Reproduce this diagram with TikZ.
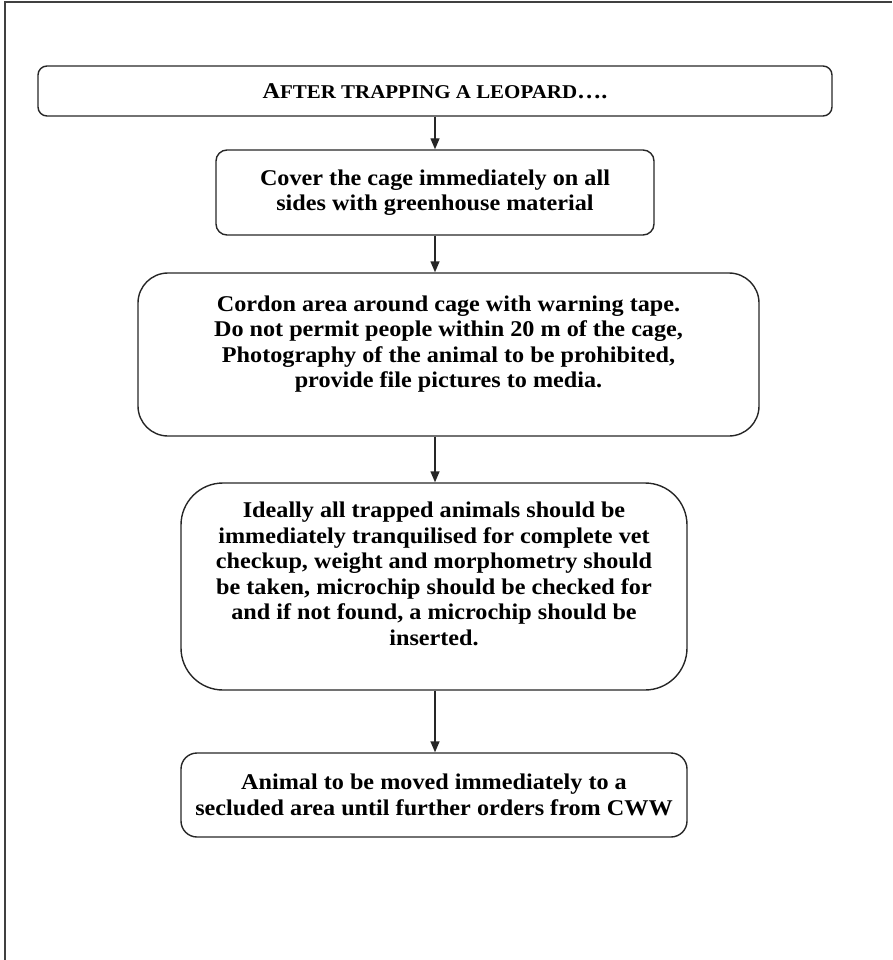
\documentclass[tikz,border=0pt]{standalone}
\usepackage{fontspec}
\setmainfont[FakeStretch=1.075]{Liberation Serif}
\usetikzlibrary{arrows.meta}
\newcommand{\fakesc}[2]{#1{\fontsize{19.5}{25.5}\selectfont #2}}
\begin{document}
\begin{tikzpicture}[x=1pt,y=-1pt,
  stepbox/.style={draw=black!85, line width=1.4pt, align=center, inner sep=0pt,
    font=\fontsize{22.5}{25.5}\selectfont\bfseries},
  arr/.style={draw=black!85, line width=1.4pt, -{Triangle[length=11pt,width=9pt]}},
  frameline/.style={draw=black!75, line width=2pt}]
\useasboundingbox (0,0) rectangle (892,960);
\draw[frameline] (5,960) -- (5,2) -- (892,2);

\node[stepbox, rounded corners=9pt, minimum width=794pt, minimum height=50pt] (b1) at (435,91)
  {\fakesc{A}{FTER TRAPPING A LEOPARD}\ldots.};
\node[stepbox, rounded corners=11pt, minimum width=438pt, minimum height=85pt] (b2) at (435,192.5)
  {Cover the cage immediately on all\\ sides with greenhouse material};
\node[stepbox, rounded corners=30pt, minimum width=621pt, minimum height=163pt] (b3) at (448.5,354.5)
  {Cordon area around cage with warning tape.\\ Do not permit people within 20 m of the cage,\\ Photography of the animal to be prohibited,\\ provide file pictures to media.\\ \mbox{}};
\node[stepbox, rounded corners=42pt, minimum width=506pt, minimum height=207pt] (b4) at (434,586.5)
  {Ideally all trapped animals should be\\ immediately tranquilised for complete vet\\ checkup, weight and morphometry should\\ be taken, microchip should be checked for\\ and if not found, a microchip should be\\ inserted.\\ \mbox{}};
\node[stepbox, rounded corners=16pt, minimum width=506pt, minimum height=84pt] (b5) at (434,795)
  {Animal to be moved immediately to a\\ secluded area until further orders from CWW};

\draw[arr] (b1.south) -- (b2.north);
\draw[arr] (b2.south) -- (b2.south |- b3.north);
\draw[arr] (b2.south |- b3.south) -- (b2.south |- b4.north);
\draw[arr] (b2.south |- b4.south) -- (b2.south |- b5.north);
\end{tikzpicture}
\end{document}
